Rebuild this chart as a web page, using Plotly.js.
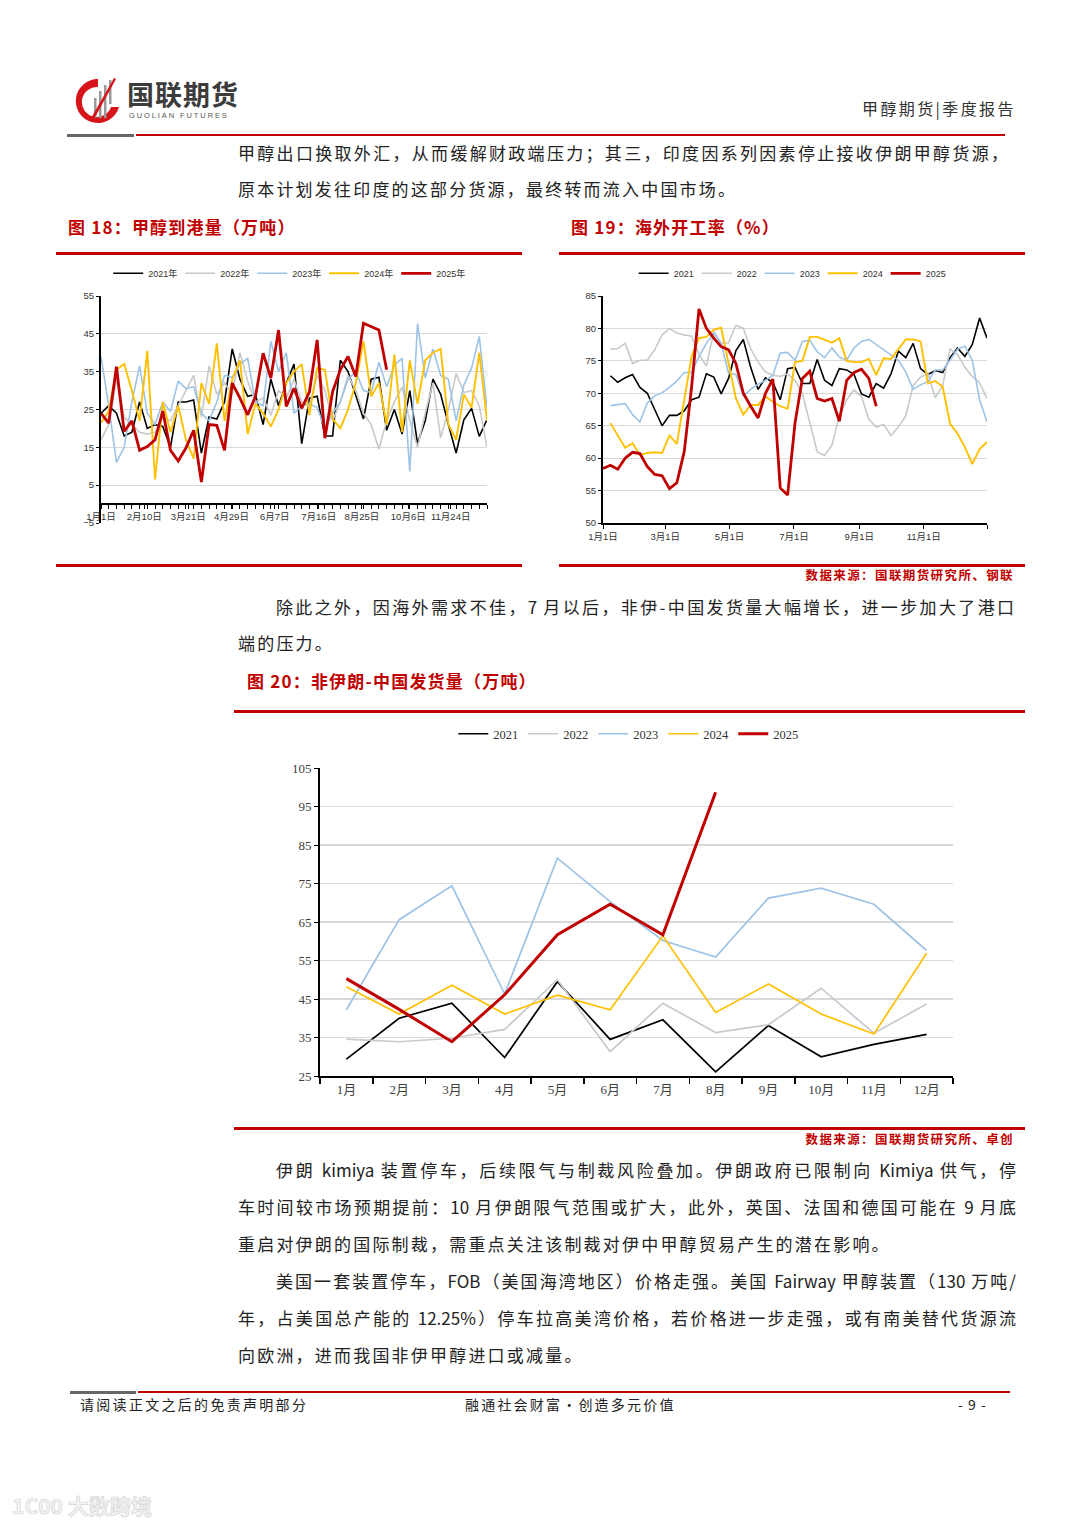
<!DOCTYPE html>
<html><head><meta charset="utf-8">
<script src="https://cdn.plot.ly/plotly-3.0.1.min.js"></script>
<style>
body{margin:0;padding:0;background:#fff;}
#page{position:relative;width:1080px;height:1527px;overflow:hidden;background:#fff;font-family:'Noto Sans CJK SC','Noto Sans',sans-serif;}
.t{position:absolute;font-size:17px;color:#222;white-space:nowrap;line-height:24px;letter-spacing:2.2px;}
.j{text-align:justify;text-align-last:justify;letter-spacing:0;}
.ttl{position:absolute;font-size:17px;color:#c00000;font-weight:bold;white-space:nowrap;line-height:24px;letter-spacing:1.2px;}
.src{position:absolute;font-size:12.5px;color:#c00000;font-weight:bold;white-space:nowrap;line-height:18px;letter-spacing:1.4px;text-align:right;}
.ln{position:absolute;height:3px;background:#c00000;z-index:2;}
.ch{position:absolute;z-index:1;}
</style></head>
<body><div id="page">
<svg style="position:absolute;left:70px;top:76px" width="52" height="50">
  <path d="M28 3 A22 22 0 1 0 49 31 L41 31 A15 15 0 1 1 28 11 Z" fill="#d7141a"/>
  <rect x="24" y="22" width="2.5" height="20" fill="#9a9a9a"/>
  <rect x="29" y="15" width="2.5" height="27" fill="#9a9a9a"/>
  <rect x="34" y="9" width="2.5" height="33" fill="#9a9a9a"/>
  <rect x="39" y="4" width="2.5" height="24" fill="#9a9a9a"/>
  <path d="M20 44 L44 2 L46 3 L23 45 Z" fill="#d7141a"/>
</svg>
<div style="position:absolute;left:127px;top:80px;font-size:27px;font-weight:bold;color:#3c3c3c;line-height:28px;white-space:nowrap;letter-spacing:1px;">国联期货</div>
<div style="position:absolute;left:129px;top:112px;font-size:7.5px;color:#555;letter-spacing:1.9px;line-height:8px;font-family:'Liberation Sans',sans-serif;white-space:nowrap;">GUOLIAN FUTURES</div>
<div style="position:absolute;left:862px;top:96px;font-size:16px;color:#333;letter-spacing:2.4px;line-height:24px;white-space:nowrap;">甲醇期货|季度报告</div>
<div style="position:absolute;left:67px;top:134px;width:67px;height:3px;background:#666;"></div>
<div style="position:absolute;left:136px;top:134px;width:869px;height:2px;background:#c00000;"></div>

<div class="t j" style="left:238px;top:141px;width:770px;">甲醇出口换取外汇，从而缓解财政端压力；其三，印度因系列因素停止接收伊朗甲醇货源，</div>
<div class="t" style="left:238px;top:177px;">原本计划发往印度的这部分货源，最终转而流入中国市场。</div>

<div class="ttl" style="left:68px;top:215px;">图 18：甲醇到港量（万吨）</div>
<div class="ttl" style="left:571px;top:215px;">图 19：海外开工率（%）</div>
<div class="ln" style="left:56px;top:252px;width:466px;"></div>
<div class="ln" style="left:559px;top:252px;width:466px;"></div>

<div id="c18" class="ch" style="left:56px;top:238px;width:466px;height:310px;"></div>
<div id="c19" class="ch" style="left:559px;top:238px;width:466px;height:310px;"></div>

<div class="ln" style="left:56px;top:564px;width:466px;"></div>
<div class="ln" style="left:559px;top:564px;width:466px;"></div>
<div class="src" style="right:66px;top:566px;">数据来源：国联期货研究所、钢联</div>

<div class="t j" style="left:276px;top:595px;width:738px;">除此之外，因海外需求不佳，7 月以后，非伊-中国发货量大幅增长，进一步加大了港口</div>
<div class="t" style="left:238px;top:631px;">端的压力。</div>
<div class="ttl" style="left:247px;top:669px;">图 20：非伊朗-中国发货量（万吨）</div>
<div class="ln" style="left:234px;top:710px;width:791px;"></div>

<div id="c20" class="ch" style="left:234px;top:690px;width:790px;height:425px;"></div>

<div class="ln" style="left:234px;top:1127px;width:791px;"></div>
<div class="src" style="right:66px;top:1130px;">数据来源：国联期货研究所、卓创</div>

<div class="t j" style="left:276px;top:1158px;width:740px;">伊朗 kimiya 装置停车，后续限气与制裁风险叠加。伊朗政府已限制向 Kimiya 供气，停</div>
<div class="t j" style="left:238px;top:1195px;width:778px;">车时间较市场预期提前：10 月伊朗限气范围或扩大，此外，英国、法国和德国可能在 9 月底</div>
<div class="t" style="left:238px;top:1232px;">重启对伊朗的国际制裁，需重点关注该制裁对伊中甲醇贸易产生的潜在影响。</div>
<div class="t j" style="left:276px;top:1269px;width:740px;">美国一套装置停车，FOB（美国海湾地区）价格走强。美国 Fairway 甲醇装置（130 万吨/</div>
<div class="t j" style="left:238px;top:1306px;width:778px;">年，占美国总产能的 12.25%）停车拉高美湾价格，若价格进一步走强，或有南美替代货源流</div>
<div class="t" style="left:238px;top:1343px;">向欧洲，进而我国非伊甲醇进口或减量。</div>

<div style="position:absolute;left:70px;top:1391px;width:66px;height:3px;background:#666;"></div>
<div style="position:absolute;left:138px;top:1391px;width:872px;height:2px;background:#c00000;"></div>
<div class="t" style="left:80px;top:1393px;font-size:14px;letter-spacing:2.3px;line-height:22px;">请阅读正文之后的免责声明部分</div>
<div class="t" style="left:465px;top:1393px;font-size:14px;letter-spacing:2.2px;line-height:22px;">融通社会财富·创造多元价值</div>
<div class="t" style="left:958px;top:1393px;font-size:14px;letter-spacing:1px;line-height:22px;">- 9 -</div>
<div style="position:absolute;left:12px;top:1490px;font-size:21px;font-weight:bold;color:#f4f4f4;line-height:30px;white-space:nowrap;-webkit-text-stroke:0.7px #d6d6d6;">1C00 大数跨境</div>
</div>
<script>
// ---------- Figure 18: methanol port arrivals (weekly, 万吨) ----------
const weekTicks18 = [0, 5.6, 11.3, 16.9, 22.5, 28.2, 33.8, 39.8, 45.3];
const weekLabels18 = ['1月1日','2月10日','3月21日','4月29日','6月7日','7月16日','8月25日','10月6日','11月24日'];
const arrivals2021 = [24,26,24,18,19,27,20,21,20.5,15,27,27,27.5,13.5,23,22.5,27,41,33,28.5,29,21,33,26,32,37,16,28,28.5,18,18,38,35,29,22.5,33,33.5,19.5,25,18.5,30,16,22,33,29,21,13.5,22.3,25.3,17.9,22.3];
const arrivals2022 = [17,21,33,23,21,19,18.5,19,23,22,26,30,34,23,36.5,29,32,29,40,32.5,27,28,23.5,30,28,33,27,26,34,30,22,27,34,30,24,21,14.5,22,27,31,22,15,24,32,17.5,25,34.5,29.5,30,26,15];
const arrivals2023 = [39,26,11,15,27,36.5,24,21,27,24.5,32.5,30.5,31,24,22,27,34,33.5,37,38.5,27,26,43,35,40,24,26,26.5,25.5,20,24,27,33,35,30,29.5,37.5,31,36.8,38.5,8.6,47.7,33.3,41,34,33,22,31.5,36,44.3,25.3];
const arrivals2024 = [21.5,24.5,35.5,37,30,22,40.5,6.5,27,19,26,17,12,32,26.5,42.5,22,33,38,18.5,26.5,24,20.5,25,32,35,37,23.5,36,35.5,22.5,20,25,32,43,28.5,32,21,39.5,19,38,26.5,38,40,41,21,17,29,25.5,40,22];
const arrivals2025 = [24,21.4,36.3,19.2,22,14.2,15.2,17,24.6,14.2,11.4,14.8,19.5,5.8,21,20.8,14.2,32,28,23.6,28.4,39.9,33.3,46,25.8,30.6,25.3,29.7,43.4,17.4,29.7,35.5,39,33.7,47.8,47,46,35.5];

// ---------- Figure 19: overseas operating rate (weekly, %) ----------
const monthTicks19 = [0, 8.43, 17.14, 25.86, 34.71, 43.43, 52];
const monthLabels19 = ['1月1日','3月1日','5月1日','7月1日','9月1日','11月1日',''];
const rate2021 = [72.7,71.7,72.4,72.9,70.9,70,67.5,65,66.6,66.6,67.3,69,69.4,73,72.5,69.9,72.3,76.6,78.3,74,70.6,72.4,71.7,69,73.8,74,71.5,71.5,75.2,72,71.2,73.8,73.6,72.9,69.9,69.4,71.5,70.8,73,76.5,75.5,77.7,73.8,72.9,73.5,73.2,75.5,77,75.7,77.5,81.6,78.5];
const rate2022 = [76.8,76.9,77.7,74.6,75.1,75.1,76.7,79,80,79.3,79,78.8,76,74.2,79.5,77.7,77.8,80.5,80,76.9,74.8,73.3,72.8,72.6,73,72,70,65.5,61,60.4,62,66.5,69,70.5,69.5,66,64.8,65.2,63.5,64.8,66.5,71.2,72.5,73,69.3,71.2,76.8,76,74,72.6,71.6,69.2];
const rate2023 = [68.1,68.2,68.4,66.7,65.6,68.5,69.6,70.1,70.9,71.9,73.2,73.2,75.7,77.7,79.3,77.7,73.1,72.9,69.6,70.6,71.4,72,72.8,76.2,76.3,75.1,78,78.2,76.4,75.5,77,75.6,75.1,77,78,78.3,77.5,76.7,75.9,75.1,73.3,70.6,71.3,71.8,73.6,73.6,75.1,76.8,77.3,75.1,69,65.6];
const rate2024 = [65.4,63.4,61.6,62.3,60.5,60.8,60.9,60.8,63.5,62.2,68.7,75.7,78.5,78.7,79.8,80.1,74.6,69.2,66.7,68.2,68.2,69.5,68.7,68,67.6,74.8,75,78.7,78.7,78.3,77.8,78.5,75,74.8,74.8,75.3,72.8,75.4,75.3,76.8,78.3,78.3,78,71.5,71.9,71,65.3,63.8,61.7,59.1,61.4,62.5];
const rate2025 = [58.4,58.9,58.3,60,60.9,60.7,58.7,57.5,57.3,55.3,56.2,61,71,83,80,78.5,77.2,76.7,74.6,70,68,66.2,70,72.2,55.4,54.3,65.4,72.3,73.4,69.2,68.8,69.2,65.7,72,73.2,73.7,72.3,68];

// ---------- Figure 20: non-Iran to China shipments (monthly, 万吨) ----------
const months20 = ['1月','2月','3月','4月','5月','6月','7月','8月','9月','10月','11月','12月'];
const ship2021 = [29.4,40,43.9,29.8,49.5,34.5,39.6,26.1,38.1,30,33.2,35.8];
const ship2022 = [34.6,33.9,34.8,37.1,50,31.3,43.9,36.3,38.3,47.8,36.1,43.7];
const ship2023 = [42.2,65.6,74.4,46.3,81.6,70.3,60.2,55.9,71.2,73.8,69.6,57.6];
const ship2024 = [48.2,41.1,48.6,41.1,46,42.2,61.4,41.5,48.9,41.1,35.9,56.9];
const ship2025 = [50.3,42.3,33.9,46.1,61.7,69.6,61.7,98.7];

const yearNames = ['2021','2022','2023','2024','2025'];
const colors = ['#000000','#c9c9c9','#9dc3e6','#ffc000','#c00000'];
const widths = [1.6,1.6,1.6,1.9,2.8];

const idx = (a, start) => a.map((_, i) => i + start);
const cfg = {staticPlot:true, displayModeBar:false};
const smallFont = {family:"'Liberation Sans','Noto Sans CJK SC',sans-serif", size:9.5, color:'#333'};
const clear = 'rgba(0,0,0,0)';

// Figure 18
(function(){
  const data = [arrivals2021, arrivals2022, arrivals2023, arrivals2024, arrivals2025];
  const traces = data.map((d, k) => ({
    x: idx(d, 0), y: d, type:'scatter', mode:'lines', name: yearNames[k] + '年',
    line:{color:colors[k], width:widths[k]}
  }));
  const yr = [-5, 55];
  Plotly.newPlot('c18', traces, {
    width:466, height:310, margin:{l:45, r:35, t:58, b:25},
    paper_bgcolor:clear, plot_bgcolor:'#fff', font:smallFont,
    showlegend:true,
    legend:{orientation:'h', x:0.485, xanchor:'center', y:1.10, yanchor:'middle',
      font:{family:smallFont.family, size:9, color:'#333'}, entrywidth:27, entrywidthmode:'pixels',
      itemwidth:30, bgcolor:clear, traceorder:'normal'},
    xaxis:{anchor:'free', position:(0 - yr[0])/(yr[1]-yr[0]), range:[0, 50],
      tickmode:'array', tickvals:weekTicks18, ticktext:weekLabels18,
      ticks:'outside', ticklen:4, tickwidth:1, tickcolor:'#000',
      showline:true, linecolor:'#000', linewidth:2, showgrid:false, zeroline:false,
      minor:{tickmode:'linear', tick0:0, dtick:1, ticks:'outside', ticklen:4, tickwidth:1, tickcolor:'#000', showgrid:false},
      tickfont:smallFont},
    yaxis:{range:yr, tick0:-5, dtick:10, showline:true, linecolor:'#000', linewidth:2,
      ticks:'outside', ticklen:3, tickcolor:'#000', gridcolor:'#d9d9d9', gridwidth:1, zeroline:false,
      tickfont:smallFont}
  }, cfg);
})();

// Figure 19
(function(){
  const data = [rate2021, rate2022, rate2023, rate2024, rate2025];
  const starts = [1,1,1,1,0];
  const traces = data.map((d, k) => ({
    x: idx(d, starts[k]), y: d, type:'scatter', mode:'lines', name: yearNames[k],
    line:{color:colors[k], width:widths[k]}
  }));
  Plotly.newPlot('c19', traces, {
    width:466, height:310, margin:{l:44, r:38, t:58, b:25},
    paper_bgcolor:clear, plot_bgcolor:'#fff', font:smallFont,
    showlegend:true,
    legend:{orientation:'h', x:0.49, xanchor:'center', y:1.10, yanchor:'middle',
      font:{family:smallFont.family, size:9, color:'#333'}, entrywidth:18, entrywidthmode:'pixels',
      itemwidth:30, bgcolor:clear, traceorder:'normal'},
    xaxis:{range:[0, 52], tickmode:'array', tickvals:monthTicks19, ticktext:monthLabels19,
      ticks:'outside', ticklen:4, tickwidth:1, tickcolor:'#000',
      showline:true, linecolor:'#000', linewidth:2, showgrid:false, zeroline:false, tickfont:smallFont},
    yaxis:{range:[50, 85], dtick:5, showline:true, linecolor:'#000', linewidth:2,
      ticks:'outside', ticklen:3, tickcolor:'#000', gridcolor:'#d9d9d9', gridwidth:1, zeroline:false,
      tickfont:smallFont}
  }, cfg);
})();

// Figure 20
(function(){
  const data = [ship2021, ship2022, ship2023, ship2024, ship2025];
  const traces = data.map((d, k) => ({
    x: months20.slice(0, d.length), y: d, type:'scatter', mode:'lines', name: yearNames[k],
    line:{color:colors[k], width:k===4 ? 3 : 1.7}
  }));
  const serif = {family:"'Liberation Serif','Noto Sans CJK SC',serif", size:13, color:'#404040'};
  Plotly.newPlot('c20', traces, {
    width:790, height:425, margin:{l:86, r:71, t:78, b:39},
    paper_bgcolor:clear, plot_bgcolor:'#fff', font:serif,
    showlegend:true,
    legend:{orientation:'h', x:0.487, xanchor:'center', y:1.11, yanchor:'middle',
      font:{family:serif.family, size:12.5, color:'#333'}, entrywidth:25, entrywidthmode:'pixels',
      itemwidth:30, bgcolor:clear, traceorder:'normal'},
    xaxis:{type:'category', categoryorder:'array', categoryarray:months20, range:[-0.5, 11.5],
      tickson:'boundaries', ticks:'outside', ticklen:6, tickwidth:1.5, tickcolor:'#000',
      showline:true, linecolor:'#000', linewidth:2, showgrid:false, zeroline:false, tickfont:serif},
    yaxis:{range:[25, 105], tick0:25, dtick:10, showline:true, linecolor:'#000', linewidth:2,
      ticks:'outside', ticklen:4, tickcolor:'#000', gridcolor:'#d9d9d9', gridwidth:1.6, zeroline:false,
      tickfont:serif}
  }, cfg);
})();
</script>
</body></html>
